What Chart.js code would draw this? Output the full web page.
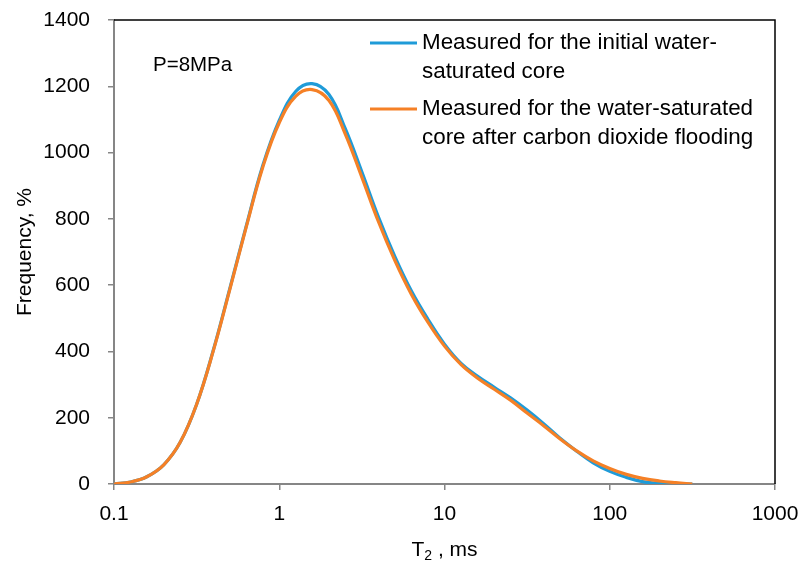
<!DOCTYPE html>
<html>
<head>
<meta charset="utf-8">
<script src="https://cdn.jsdelivr.net/npm/chart.js@4.4.1/dist/chart.umd.min.js"></script>
<style>
html,body{margin:0;padding:0;background:#fff;}
#wrap{width:802px;height:567px;position:relative;}
</style>
</head>
<body>
<div id="wrap"><canvas id="c" width="802" height="567"></canvas></div>
<script>
// T2 relaxation times (ms)
const t2Values = [0.1, 0.126, 0.158, 0.2, 0.251, 0.316, 0.398, 0.501, 0.631, 0.794, 1, 1.26, 1.58, 2, 2.51, 3.16, 3.98, 5.01, 6.31, 7.94, 10, 12.6, 15.8, 20, 25.1, 31.6, 39.8, 50.1, 63.1, 79.4, 100, 126, 158, 200, 251, 316];
// Measured for the initial water-saturated core
const initialCore = [0, 6, 22, 58, 125, 240, 402, 588, 778, 960, 1097, 1185, 1208, 1175, 1072, 942, 806, 686, 582, 497, 422, 364, 326, 292, 260, 223, 182, 138, 99, 64, 38, 20, 7, 1, 0, 0];
// Measured for the water-saturated core after CO2 flooding
const afterCO2 = [0, 6, 22, 58, 125, 240, 400, 585, 775, 955, 1090, 1170, 1190, 1157, 1056, 926, 792, 674, 572, 488, 416, 360, 320, 286, 253, 214, 176, 136, 100, 70, 47, 29, 17, 9, 4, 0];
const xTicks = [0.1, 1, 10, 100, 1000];
const xTickLabels = ['0.1', '1', '10', '100', '1000'];
const seriesNames = [
  ['Measured for the initial water-', 'saturated core'],
  ['Measured for the water-saturated', 'core after carbon dioxide flooding']
];
const annotationText = 'P=8MPa';

const FONT = '"Liberation Sans", Arial, sans-serif';
const BLUE = '#1f9bd8';
const ORANGE = '#f58026';
const AXIS = '#868686';

const toPts = (ys) => t2Values.map((x, i) => ({x: x, y: ys[i]}));

const zeroPad = (scale) => {
  scale.paddingTop = 0; scale.paddingBottom = 0;
  scale.paddingLeft = 0; scale.paddingRight = 0;
};

const decor = {
  id: 'decor',
  afterDraw(chart) {
    const ctx = chart.ctx;
    const a = chart.chartArea;
    ctx.save();
    // top and right border (black)
    ctx.strokeStyle = '#000';
    ctx.lineWidth = 1.5;
    ctx.beginPath();
    ctx.moveTo(a.left, a.top);
    ctx.lineTo(a.right, a.top);
    ctx.lineTo(a.right, a.bottom);
    ctx.stroke();
    // annotation
    ctx.fillStyle = '#000';
    ctx.textBaseline = 'middle';
    ctx.textAlign = 'left';
    ctx.font = '20.5px ' + FONT;
    ctx.fillText(annotationText, 153, 65);
    // legend
    const colors = [BLUE, ORANGE];
    const rowsY = [43, 109];
    ctx.font = '22.4px ' + FONT;
    for (let i = 0; i < 2; i++) {
      ctx.strokeStyle = colors[i];
      ctx.lineWidth = 3;
      ctx.beginPath();
      ctx.moveTo(370, rowsY[i]);
      ctx.lineTo(417, rowsY[i]);
      ctx.stroke();
      ctx.fillStyle = '#000';
      ctx.fillText(seriesNames[i][0], 422, rowsY[i]);
      ctx.fillText(seriesNames[i][1], 422, rowsY[i] + 29);
    }
    // x axis title with subscript
    ctx.font = '21px ' + FONT;
    const p1 = 'T', p3 = ' , ms';
    const w1 = ctx.measureText(p1).width;
    const w3 = ctx.measureText(p3).width;
    ctx.font = '14px ' + FONT;
    const w2 = ctx.measureText('2').width;
    const total = w1 + w2 + w3;
    let x0 = (a.left + a.right) / 2 - total / 2;
    const yT = 550;
    ctx.font = '21px ' + FONT;
    ctx.fillText(p1, x0, yT);
    ctx.font = '14px ' + FONT;
    ctx.fillText('2', x0 + w1, yT + 6);
    ctx.font = '21px ' + FONT;
    ctx.fillText(p3, x0 + w1 + w2, yT);
    ctx.restore();
  }
};

new Chart(document.getElementById('c'), {
  type: 'line',
  data: {
    datasets: [
      {
        label: seriesNames[1].join(' '),
        data: toPts(afterCO2),
        borderColor: ORANGE,
        borderWidth: 3.2,
        pointRadius: 0,
        tension: 0.4,
        fill: false,
        order: 0
      },
      {
        label: seriesNames[0].join(' '),
        data: toPts(initialCore),
        borderColor: BLUE,
        borderWidth: 3.2,
        pointRadius: 0,
        tension: 0.4,
        fill: false,
        order: 1
      }
    ]
  },
  options: {
    responsive: false,
    animation: false,
    layout: {padding: {top: 20, right: 27, left: 0, bottom: 0}},
    plugins: {legend: {display: false}, tooltip: {enabled: false}},
    scales: {
      x: {
        type: 'logarithmic',
        min: 0.1,
        max: 1000,
        afterBuildTicks(scale) { scale.ticks = xTicks.map(v => ({value: v})); },
        afterFit(scale) { scale.height = 83; zeroPad(scale); },
        ticks: {
          autoSkip: false,
          maxRotation: 0,
          padding: 12,
          color: '#000',
          font: {family: FONT, size: 21},
          callback(value) { const i = xTicks.indexOf(value); return i >= 0 ? xTickLabels[i] : ''; }
        },
        grid: {display: true, drawOnChartArea: false, drawTicks: true, tickLength: 6, color: AXIS, lineWidth: 1.5},
        border: {display: true, color: AXIS, width: 2}
      },
      y: {
        min: 0,
        max: 1400,
        afterFit(scale) { scale.width = 114; zeroPad(scale); },
        ticks: {
          stepSize: 200,
          padding: 18,
          color: '#000',
          font: {family: FONT, size: 21},
          callback(value) { return String(value); }
        },
        title: {
          display: true,
          text: 'Frequency, %',
          color: '#000',
          font: {family: FONT, size: 21},
          padding: {top: 13, bottom: 0}
        },
        grid: {display: true, drawOnChartArea: false, drawTicks: true, tickLength: 6, color: AXIS, lineWidth: 1.5},
        border: {display: true, color: AXIS, width: 2}
      }
    }
  },
  plugins: [decor]
});
</script>
</body>
</html>
